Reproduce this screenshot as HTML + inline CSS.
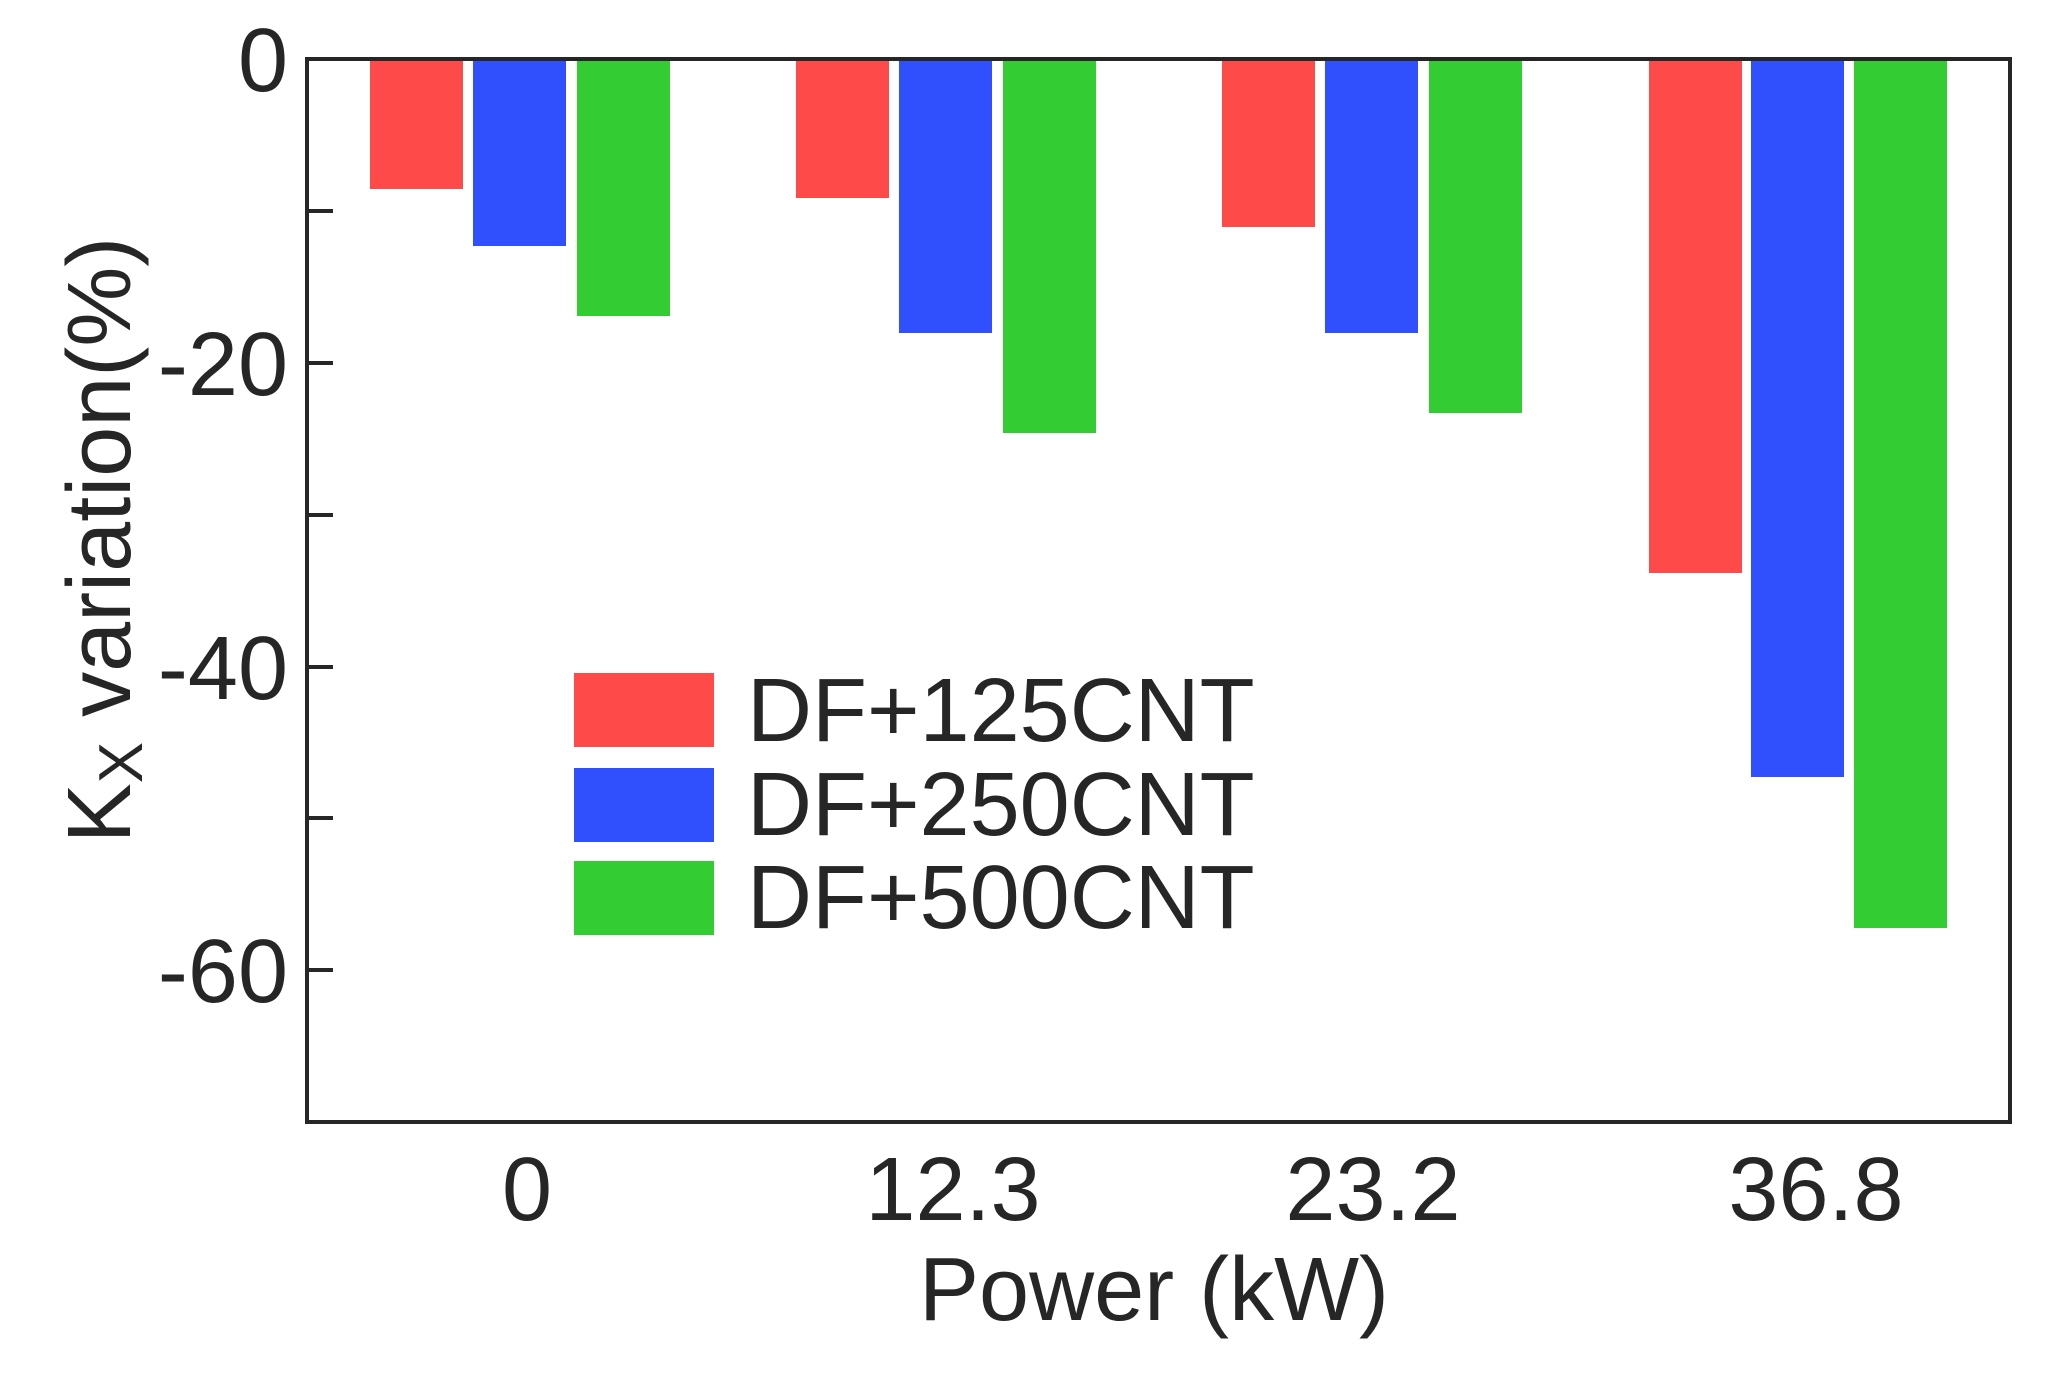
<!DOCTYPE html>
<html><head><meta charset="utf-8"><style>
html,body{margin:0;padding:0;background:#fff;}
svg{display:block;}
text{font-family:"Liberation Sans",sans-serif;fill:#262626;}
</style></head><body>
<svg width="2055" height="1373" viewBox="0 0 2055 1373" xmlns="http://www.w3.org/2000/svg">
<rect width="2055" height="1373" fill="#fff"/>
<!-- bars -->
<g>
<rect x="370" y="59" width="93" height="130" fill="#ff4a4a"/>
<rect x="473" y="59" width="93" height="187" fill="#3050fd"/>
<rect x="577" y="59" width="93" height="257" fill="#33cc33"/>
<rect x="796" y="59" width="93" height="139" fill="#ff4a4a"/>
<rect x="899" y="59" width="93" height="274" fill="#3050fd"/>
<rect x="1003" y="59" width="93" height="374" fill="#33cc33"/>
<rect x="1222" y="59" width="93" height="168" fill="#ff4a4a"/>
<rect x="1325" y="59" width="93" height="274" fill="#3050fd"/>
<rect x="1429" y="59" width="93" height="354" fill="#33cc33"/>
<rect x="1649" y="59" width="93" height="514" fill="#ff4a4a"/>
<rect x="1751" y="59" width="93" height="718" fill="#3050fd"/>
<rect x="1854" y="59" width="93" height="869" fill="#33cc33"/>
</g>
<!-- axes -->
<rect x="307" y="59" width="1703" height="1063" fill="none" stroke="#262626" stroke-width="4"/>
<g stroke="#262626" stroke-width="4">
<line x1="307" y1="211" x2="333" y2="211"/>
<line x1="307" y1="363" x2="333" y2="363"/>
<line x1="307" y1="515" x2="333" y2="515"/>
<line x1="307" y1="667" x2="333" y2="667"/>
<line x1="307" y1="818" x2="333" y2="818"/>
<line x1="307" y1="970" x2="333" y2="970"/>
</g>
<g font-size="90" text-anchor="end">
<text x="288" y="91">0</text>
<text x="288" y="395">-20</text>
<text x="288" y="699">-40</text>
<text x="288" y="1002">-60</text>
</g>
<g font-size="90" text-anchor="middle">
<text x="527" y="1220">0</text>
<text x="953" y="1220">12.3</text>
<text x="1373" y="1220">23.2</text>
<text x="1816" y="1220">36.8</text>
<text x="1154" y="1320">Power (kW)</text>
</g>
<text font-size="90" text-anchor="middle" transform="translate(130,540) rotate(-90)">K<tspan font-size="62" dy="12">X</tspan><tspan dy="-12"> variation(%)</tspan></text>
<!-- legend -->
<rect x="574" y="673" width="140" height="74" fill="#ff4a4a"/>
<rect x="574" y="768" width="140" height="74" fill="#3050fd"/>
<rect x="574" y="861" width="140" height="74" fill="#33cc33"/>
<g font-size="90">
<text x="747" y="741">DF+125CNT</text>
<text x="747" y="835">DF+250CNT</text>
<text x="747" y="928">DF+500CNT</text>
</g>
</svg>
</body></html>
